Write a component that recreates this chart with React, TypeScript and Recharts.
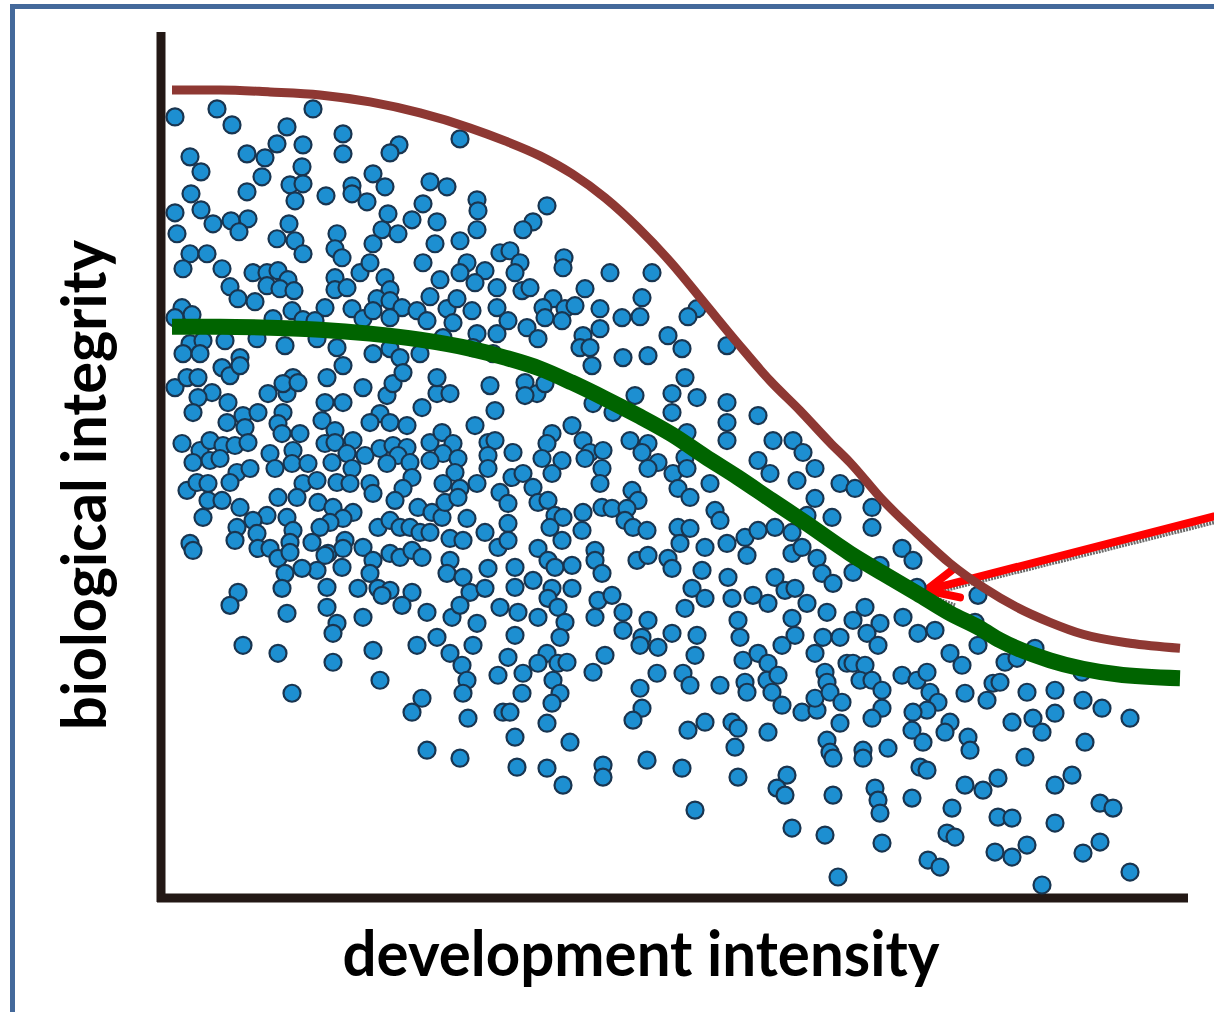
import { ReferenceLine, Scatter, ScatterChart, XAxis, YAxis } from "recharts";

// point positions read along the two axes (x grows right, y grows down the picture)
const dots: [number, number][] = [
  [175, 116], [217, 108], [232, 124], [313, 108], [287, 126], [277, 143], [303, 144], [343, 133], [343, 153],
  [399, 144], [390, 152], [460, 138], [190, 156], [201, 171], [247, 153], [265, 157], [262, 176], [302, 166],
  [290, 184], [303, 183], [295, 200], [247, 191], [326, 195], [352, 185], [352, 193], [367, 201], [373, 173],
  [385, 186], [430, 181], [447, 186], [477, 199], [478, 210], [477, 229], [191, 193], [175, 212], [201, 209],
  [213, 223], [231, 220], [248, 218], [239, 231], [177, 233], [190, 253], [207, 253], [183, 268], [289, 223],
  [277, 238], [295, 240], [303, 253], [337, 233], [335, 248], [342, 257], [373, 243], [382, 229], [398, 233],
  [388, 213], [412, 219], [423, 203], [437, 221], [435, 243], [423, 262], [460, 240], [467, 262], [460, 272],
  [485, 270], [475, 282], [497, 287], [500, 252], [222, 268], [253, 272], [267, 272], [278, 270], [288, 279],
  [267, 285], [280, 288], [294, 290], [230, 286], [238, 298], [255, 301], [182, 307], [192, 314], [175, 317],
  [335, 277], [335, 289], [347, 287], [325, 307], [360, 272], [370, 262], [385, 277], [390, 289], [377, 298],
  [352, 308], [363, 318], [373, 310], [390, 300], [402, 307], [417, 310], [430, 296], [440, 279], [447, 308],
  [457, 298], [472, 310], [497, 307], [292, 310], [273, 318], [303, 319], [315, 320], [390, 317], [427, 320],
  [453, 322], [477, 333], [497, 333], [190, 343], [203, 340], [225, 340], [183, 353], [200, 353], [240, 357],
  [257, 338], [285, 345], [317, 338], [337, 347], [373, 353], [390, 348], [400, 357], [420, 353], [443, 337],
  [473, 347], [493, 353],
  [547, 205], [533, 221], [523, 229], [510, 250], [520, 262], [515, 272], [564, 257], [563, 267], [610, 272],
  [652, 272], [522, 290], [530, 287], [585, 288], [642, 297], [553, 298], [543, 307], [565, 308], [575, 305],
  [545, 317], [562, 320], [600, 308], [622, 317], [640, 316], [697, 308], [688, 316], [508, 320], [527, 327],
  [538, 338], [583, 335], [600, 328], [580, 347], [590, 347], [668, 335], [682, 348], [727, 345], [623, 357],
  [648, 355],
  [175, 387], [187, 377], [198, 377], [222, 367], [230, 375], [240, 365], [212, 392], [198, 397], [193, 412],
  [228, 402], [227, 422], [243, 415], [258, 412], [245, 427], [268, 393], [287, 393], [293, 377], [283, 383],
  [298, 382], [327, 377], [343, 365], [325, 402], [343, 402], [363, 387], [387, 395], [393, 383], [403, 372],
  [422, 407], [437, 393], [437, 377], [450, 393], [380, 413], [370, 422], [390, 422], [407, 425], [490, 385],
  [495, 410], [475, 425], [283, 412], [278, 423], [322, 420], [335, 430], [182, 443], [200, 450], [210, 440],
  [223, 445], [235, 445], [248, 442], [193, 462], [210, 460], [220, 458], [237, 472], [250, 468], [230, 482],
  [282, 433], [293, 450], [300, 433], [270, 453], [275, 468], [292, 463], [308, 463], [325, 443], [335, 442],
  [353, 440], [347, 453], [332, 462], [365, 455], [380, 448], [393, 445], [407, 447], [398, 455], [387, 463],
  [410, 462], [352, 468], [337, 482], [350, 483], [370, 483], [373, 493], [412, 477], [403, 488], [395, 500],
  [430, 442], [442, 432], [453, 443], [443, 453], [430, 460], [458, 458], [455, 472], [443, 483], [460, 488],
  [477, 483], [488, 442], [495, 440], [488, 455], [488, 468], [500, 492], [187, 490], [197, 482], [208, 483],
  [208, 500], [222, 500], [240, 507], [203, 517], [303, 483], [317, 480], [297, 497], [278, 497], [318, 502],
  [333, 507], [353, 512], [343, 518], [330, 522], [320, 527], [267, 515], [253, 520], [237, 527], [235, 540],
  [257, 533], [287, 517], [293, 530], [290, 542], [258, 548], [270, 548], [278, 558], [290, 552], [312, 542],
  [328, 553], [345, 540], [343, 548], [363, 547], [378, 527], [390, 520], [400, 527], [410, 527], [420, 532],
  [430, 532], [418, 507], [432, 512], [442, 517], [445, 502], [458, 497], [467, 518], [485, 532], [450, 538],
  [463, 540], [498, 547], [190, 543], [193, 550], [390, 553], [400, 557], [412, 550], [422, 557], [373, 560],
  [370, 573], [342, 567], [325, 555], [317, 570], [302, 568], [285, 573], [282, 588], [450, 560], [447, 573],
  [463, 577], [470, 592], [485, 588], [488, 568], [358, 588], [378, 588], [390, 590], [382, 595], [412, 592],
  [402, 605], [327, 587], [238, 592], [230, 605], [327, 607], [363, 617], [287, 613], [337, 623], [427, 612],
  [452, 617], [460, 605], [477, 623], [500, 607],
  [592, 365], [525, 382], [537, 393], [545, 383], [525, 395], [593, 403], [613, 412], [635, 395], [672, 393],
  [672, 412], [685, 377], [697, 397], [727, 402], [727, 422], [727, 440], [758, 415], [572, 425], [552, 433],
  [547, 443], [513, 452], [542, 458], [562, 460], [552, 473], [583, 440], [590, 452], [603, 450], [585, 458],
  [602, 468], [600, 483], [630, 440], [648, 443], [642, 452], [658, 462], [648, 468], [687, 432], [685, 457],
  [673, 473], [687, 468], [678, 488], [690, 497], [710, 483], [773, 440], [793, 440], [803, 452], [758, 460],
  [770, 473], [815, 468], [797, 480], [840, 483], [815, 498], [807, 515], [832, 517], [512, 477], [523, 473],
  [533, 487], [538, 502], [548, 500], [508, 503], [508, 523], [508, 540], [555, 515], [563, 517], [562, 540],
  [550, 527], [583, 512], [582, 530], [602, 507], [612, 508], [632, 490], [638, 500], [627, 508], [625, 520],
  [633, 527], [647, 530], [715, 510], [720, 520], [678, 527], [690, 528], [680, 543], [705, 547], [727, 543],
  [745, 537], [758, 530], [775, 527], [792, 532], [747, 555], [792, 553], [802, 547], [817, 558], [822, 573],
  [833, 583], [538, 548], [548, 560], [555, 567], [572, 565], [515, 567], [595, 550], [595, 560], [602, 573],
  [637, 560], [648, 555], [668, 558], [672, 568], [515, 587], [533, 580], [552, 588], [572, 588], [548, 598],
  [558, 607], [702, 570], [692, 588], [705, 598], [685, 608], [728, 577], [732, 598], [753, 595], [768, 603],
  [775, 577], [785, 590], [795, 588], [807, 603], [827, 612], [792, 618], [598, 600], [612, 595], [595, 617],
  [623, 612], [648, 620], [518, 612], [538, 617], [565, 622], [738, 620],
  [855, 488], [872, 507], [872, 527], [902, 548], [913, 560], [880, 565], [853, 572], [917, 587], [978, 595],
  [865, 607], [903, 617], [880, 623], [975, 622], [853, 620],
  [243, 645], [278, 653], [333, 633], [333, 662], [373, 650], [380, 680], [292, 693], [417, 645], [437, 637],
  [450, 653], [473, 645], [462, 665], [467, 680], [463, 693], [468, 718], [498, 675], [422, 698], [412, 712],
  [427, 750], [460, 758], [503, 712],
  [515, 635], [508, 657], [560, 637], [547, 653], [538, 663], [523, 673], [558, 663], [567, 662], [553, 680],
  [560, 693], [552, 703], [522, 693], [510, 712], [547, 723], [515, 737], [570, 742], [517, 767], [547, 768],
  [563, 785], [603, 765], [603, 777], [593, 672], [605, 655], [623, 630], [642, 637], [640, 645], [658, 647],
  [672, 633], [657, 673], [640, 688], [642, 708], [633, 720], [647, 760], [682, 768], [695, 810], [697, 635],
  [695, 655], [683, 673], [690, 685], [720, 685], [688, 730], [705, 722], [732, 722], [738, 728], [735, 747],
  [738, 777], [740, 637], [743, 660], [758, 653], [768, 663], [745, 682], [747, 692], [767, 680], [778, 675],
  [772, 692], [782, 645], [795, 635], [782, 705], [802, 712], [817, 710], [815, 698], [815, 653], [825, 672],
  [827, 682], [830, 692], [842, 702], [823, 637], [840, 637], [840, 723], [827, 740], [830, 752], [833, 758],
  [768, 732], [787, 775], [777, 788], [785, 795], [833, 795], [792, 828], [825, 835], [838, 877], [847, 663],
  [867, 633], [878, 645], [918, 633], [935, 630], [853, 663], [865, 665], [860, 680], [872, 680], [882, 690],
  [902, 675], [917, 680], [927, 672], [930, 692], [938, 702], [927, 710], [913, 712], [882, 708], [872, 718],
  [950, 653], [962, 665], [978, 645], [965, 693], [987, 700], [993, 683], [1000, 682], [1005, 662], [1017, 658],
  [1035, 648], [1027, 692], [1055, 690], [1082, 672], [1083, 700], [1102, 708], [1130, 718], [1055, 713],
  [1033, 718], [1012, 722], [1042, 732], [1085, 742], [912, 730], [923, 742], [950, 722], [945, 732], [968, 737],
  [970, 750], [863, 750], [863, 758], [888, 748], [920, 767], [927, 770], [1025, 757], [1072, 775], [1055, 785],
  [998, 778], [983, 790], [965, 785], [875, 788], [878, 800], [912, 798], [880, 813], [952, 808], [998, 817],
  [1012, 818], [1055, 823], [1100, 803], [1113, 808], [882, 843], [947, 833], [955, 837], [995, 852], [1012, 857],
  [1027, 845], [1083, 853], [1100, 842], [928, 860], [940, 867], [1042, 885], [1130, 872],
];

const upperCurve: [number, number][] = [
  [172, 89], [220, 89], [270, 91], [320, 94], [370, 101], [420, 112], [470, 127], [505, 140], [540, 155],
  [572, 173], [605, 197], [638, 227], [672, 263], [705, 303], [738, 343], [770, 380], [800, 410], [830, 442],
  [850, 462], [883, 500], [917, 533], [950, 563], [983, 587], [1017, 607], [1050, 622], [1083, 634],
  [1130, 643], [1180, 648],
];

const lowerCurve: [number, number][] = [
  [172, 326], [220, 326], [270, 327], [320, 329], [370, 333], [420, 339], [470, 348], [505, 357], [540, 368],
  [572, 382], [605, 398], [638, 415], [672, 434], [705, 456], [738, 477], [772, 500], [805, 522], [850, 553],
  [883, 573], [917, 593], [950, 613], [980, 628], [1000, 640], [1050, 660], [1117, 674], [1180, 678],
];

const arrowShaft: [number, number][] = [[1214, 516], [926, 590]];
const arrowBarbs: [number, number][][] = [
  [[926, 590], [953, 569]],
  [[926, 590], [960, 597]],
];

const toRows = (pts: [number, number][]) => pts.map(([x, y]) => ({ x, y }));

const Dot = (props: any) => (
  <circle cx={props.cx} cy={props.cy} r={8.5} fill="#1d8fd1" stroke="#193550" strokeWidth={2.2} />
);
const NoDot = () => <g />;

const AXIS = "#231815";

export default function App() {
  return (
    <div style={{ position: "absolute", left: 0, top: 0, width: 1214, height: 1012, overflow: "hidden", background: "#fff" }}>
      <div
        style={{
          position: "absolute",
          left: 10,
          top: 4,
          width: 1400,
          height: 1200,
          borderLeft: "5px solid #44699b",
          borderTop: "5px solid #44699b",
        }}
      />
      <div style={{ position: "absolute", left: 0, top: 0 }}>
        <ScatterChart width={1214} height={1012} margin={{ top: 32, right: 26, bottom: 114, left: 161 }}>
          <XAxis type="number" dataKey="x" domain={[161, 1188]} hide allowDataOverflow />
          <YAxis type="number" dataKey="y" domain={[31, 898]} reversed hide allowDataOverflow />
          <Scatter data={toRows(dots)} shape={Dot} isAnimationActive={false} />
          <Scatter
            data={toRows(upperCurve)}
            shape={NoDot}
            line={{ stroke: "#8e3833", strokeWidth: 9 }}
            lineJointType="monotoneX"
            isAnimationActive={false}
          />
          <Scatter
            data={toRows(lowerCurve)}
            shape={NoDot}
            line={{ stroke: "#006400", strokeWidth: 16 }}
            lineJointType="monotoneX"
            isAnimationActive={false}
          />
          {/* axis lines */}
          <ReferenceLine
            segment={[{ x: 161, y: 31 }, { x: 161, y: 902 }]}
            stroke={AXIS}
            strokeWidth={9}
            ifOverflow="visible"
          />
          <ReferenceLine
            segment={[{ x: 157, y: 898 }, { x: 1188, y: 898 }]}
            stroke={AXIS}
            strokeWidth={9}
            ifOverflow="visible"
          />
          <ReferenceLine
            segment={[
              { x: arrowShaft[0][0], y: arrowShaft[0][1] + 6 },
              { x: arrowShaft[1][0] + 2, y: arrowShaft[1][1] + 4 },
            ]}
            stroke="#6b6b6b"
            strokeWidth={4}
            strokeDasharray="2 1"
            ifOverflow="visible"
          />
          <ReferenceLine
            segment={[
              { x: arrowBarbs[1][0][0] + 2, y: arrowBarbs[1][0][1] + 5 },
              { x: arrowBarbs[1][1][0] - 5, y: arrowBarbs[1][1][1] + 8 },
            ]}
            stroke="#6b6b6b"
            strokeWidth={4}
            strokeDasharray="2 1"
            ifOverflow="visible"
          />
          <ReferenceLine
            segment={[
              { x: arrowShaft[0][0], y: arrowShaft[0][1] },
              { x: arrowShaft[1][0], y: arrowShaft[1][1] },
            ]}
            stroke="#ff0000"
            strokeWidth={8}
            strokeLinecap="round"
            ifOverflow="visible"
          />
          {arrowBarbs.map((b, i) => (
            <ReferenceLine
              key={i}
              segment={[
                { x: b[0][0], y: b[0][1] },
                { x: b[1][0], y: b[1][1] },
              ]}
              stroke="#ff0000"
              strokeWidth={8}
              strokeLinecap="round"
              ifOverflow="visible"
            />
          ))}
          <text
            x={641}
            y={976}
            textAnchor="middle"
            fontFamily="Lato, sans-serif"
            fontWeight={700}
            fontSize={63}
            textLength={597}
            lengthAdjust="spacingAndGlyphs"
            fill="#000"
          >
            development intensity
          </text>
          <text
            transform="translate(106, 485) rotate(-90)"
            textAnchor="middle"
            fontFamily="Lato, sans-serif"
            fontWeight={700}
            fontSize={61}
            textLength={490}
            lengthAdjust="spacingAndGlyphs"
            fill="#000"
          >
            biological integrity
          </text>
        </ScatterChart>
      </div>
    </div>
  );
}
